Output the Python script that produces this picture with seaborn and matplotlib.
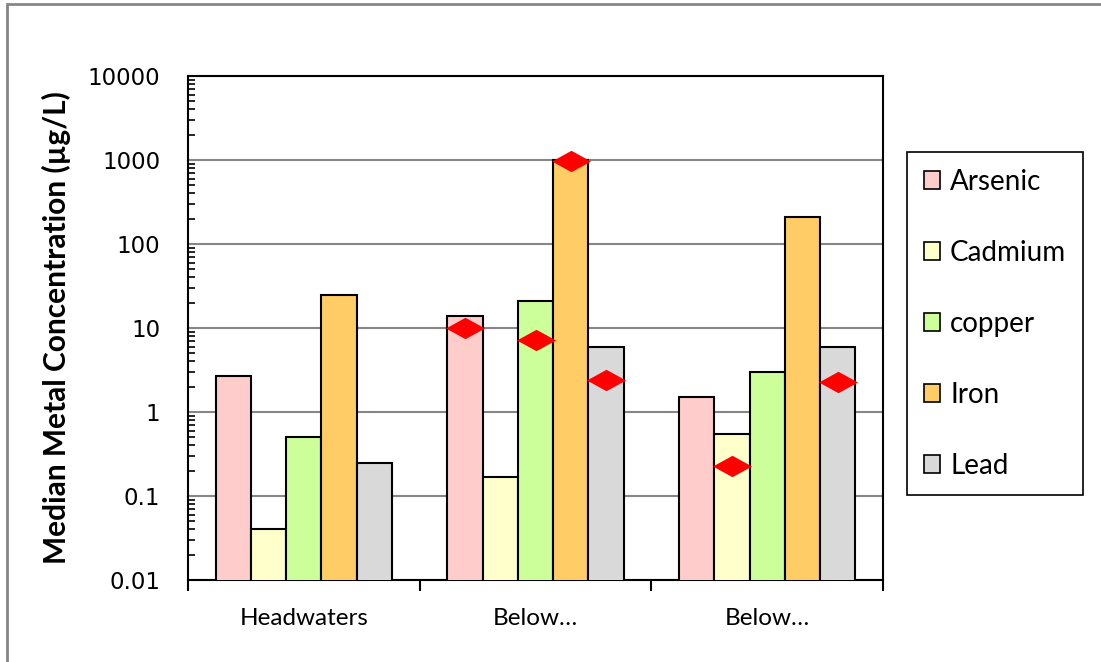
import numpy as np
import pandas as pd
import matplotlib
matplotlib.use("Agg")
import matplotlib.pyplot as plt
from matplotlib.path import Path
from matplotlib.patches import Rectangle
from matplotlib.ticker import LogLocator, NullFormatter, FixedLocator, FixedFormatter
import seaborn as sns

# --- data -------------------------------------------------------------
sites = ["Headwaters", "Below_1", "Below_2"]
site_labels = ["Headwaters", "Below\u2026", "Below\u2026"]
metals = ["Arsenic", "Cadmium", "copper", "Iron", "Lead"]
metal_colors = ["#FFCCCC", "#FFFFCC", "#CCFF99", "#FFCC66", "#D9D9D9"]

arsenic = [2.7, 14, 1.5]
cadmium = [0.04, 0.17, 0.55]
copper = [0.5, 21, 3.0]
iron = [25, 1000, 210]
lead = [0.25, 6.0, 6.0]

# reference values (red diamonds); NaN where none is shown
ref_arsenic = [np.nan, 10, np.nan]
ref_cadmium = [np.nan, np.nan, 0.23]
ref_copper = [np.nan, 7.2, np.nan]
ref_iron = [np.nan, 970, np.nan]
ref_lead = [np.nan, 2.4, 2.3]

series = [arsenic, cadmium, copper, iron, lead]
ref_series = [ref_arsenic, ref_cadmium, ref_copper, ref_iron, ref_lead]

df = pd.DataFrame(
    [(s, m, v[i]) for m, v in zip(metals, series) for i, s in enumerate(sites)],
    columns=["site", "metal", "value"],
)

# --- figure -----------------------------------------------------------
sns.set_theme(style="white")
plt.rcParams["font.family"] = ["DejaVu Sans"]
plt.rcParams["text.color"] = "black"
plt.rcParams["axes.labelcolor"] = "black"
plt.rcParams["xtick.color"] = "black"
plt.rcParams["ytick.color"] = "black"

fig = plt.figure(figsize=(11.01, 6.62), dpi=100)
ax = fig.add_axes([188 / 1101, 1 - 580 / 662, (883 - 188) / 1101, (580 - 76) / 662])

group_width = 0.76
sns.barplot(
    data=df, x="site", y="value", hue="metal", order=sites, hue_order=metals,
    palette=metal_colors, width=group_width, edgecolor="black", linewidth=1.5,
    saturation=1, ax=ax, legend=True, zorder=3,
)
ax.set_yscale("log", nonpositive="clip")

# red diamond markers for reference values, centred on their bars
diamond = Path([(-1, 0), (0, 0.55), (1, 0), (0, -0.55), (-1, 0)],
               [Path.MOVETO, Path.LINETO, Path.LINETO, Path.LINETO, Path.CLOSEPOLY])
n = len(metals)
bw = group_width / n
for j, refs in enumerate(ref_series):
    xs = np.arange(len(sites)) - group_width / 2 + bw * (j + 0.5)
    ax.plot(xs, refs, linestyle="none", marker=diamond, markersize=28,
            color="#FF0000", markeredgewidth=0, zorder=5)

# axes styling
ax.set_ylim(0.01, 10000)
ax.set_xlim(-0.5, len(sites) - 0.5)
ax.yaxis.set_minor_locator(LogLocator(base=10, subs=np.arange(2, 10), numticks=10))
ax.yaxis.set_minor_formatter(NullFormatter())
ax.set_yticks([0.01, 0.1, 1, 10, 100, 1000, 10000])
ax.set_yticklabels(["0.01", "0.1", "1", "10", "100", "1000", "10000"])
ax.grid(axis="y", which="major", color="#868686", linewidth=1.5, zorder=0)
ax.set_axisbelow(True)

ax.tick_params(axis="y", which="major", direction="out", length=8, width=1.5,
               labelsize=16.5, pad=12, colors="black")
ax.tick_params(axis="y", which="minor", direction="in", length=5, width=1.2,
               left=True)

# category boundaries carry the x ticks; names sit between them
ax.xaxis.set_major_locator(FixedLocator(np.arange(len(sites) + 1) - 0.5))
ax.xaxis.set_major_formatter(NullFormatter())
ax.xaxis.set_minor_locator(FixedLocator(np.arange(len(sites))))
ax.xaxis.set_minor_formatter(FixedFormatter(site_labels))
ax.tick_params(axis="x", which="major", direction="out", length=8, width=1.5,
               bottom=True)
ax.tick_params(axis="x", which="minor", length=0, pad=20)
for lbl in ax.xaxis.get_minorticklabels():
    lbl.set_fontfamily("Lato")
    lbl.set_fontsize(17.5)
    lbl.set_color("black")

for sp in ax.spines.values():
    sp.set_visible(True)
    sp.set_color("black")
    sp.set_linewidth(1.5)

ax.set_xlabel("")
ax.set_ylabel("Median Metal Concentration (\u00b5g/L)", fontsize=21.5,
              fontweight="bold", fontfamily="Lato", labelpad=12, color="black")

# legend in a framed box to the right
handles, labels = ax.get_legend_handles_labels()
ax.legend_.remove()
leg = fig.legend(
    handles, labels, loc="upper left",
    bbox_to_anchor=(907 / 1101, 1 - 152 / 662), bbox_transform=fig.transFigure,
    frameon=True, fancybox=False, edgecolor="black", framealpha=1,
    prop={"family": "Lato", "size": 20}, handlelength=0.6,
    handleheight=0.6, handletextpad=0.35, labelspacing=1.62,
    borderpad=0.6, borderaxespad=0,
)
leg.get_frame().set_linewidth(1.2)
for h in leg.legend_handles:
    h.set_edgecolor("black")
    h.set_linewidth(1.2)
for t in leg.get_texts():
    t.set_color("black")

# outer chart border
fig.patches.append(Rectangle((7 / 1101, -0.05), 1.2, 1 - 4 / 662 + 0.05,
                             transform=fig.transFigure, fill=False,
                             edgecolor="#868686", linewidth=2))

fig.savefig("out.png", dpi=100, facecolor="white")
